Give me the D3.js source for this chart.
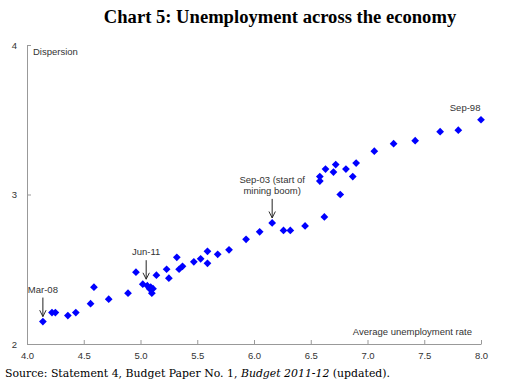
<!DOCTYPE html>
<html>
<head>
<meta charset="utf-8">
<script src="https://cdn.jsdelivr.net/npm/d3@7"></script>
<style>
body { margin: 0; background: #fff; }
svg { display: block; }
.tick text { font-family: Arial, "Liberation Sans", sans-serif; font-size: 9.5px; fill: #333; }
.note { font-family: Arial, "Liberation Sans", sans-serif; font-size: 9.5px; fill: #333; }
</style>
</head>
<body>
<script>
// average unemployment rate (x) and dispersion (y), one point per quarter
const unemployment = [4.14, 4.22, 4.25, 4.36, 4.43, 4.56, 4.59, 4.72, 4.89, 4.96,
  5.02, 5.06, 5.09, 5.11, 5.10, 5.08, 5.14, 5.23, 5.25, 5.32,
  5.34, 5.37, 5.47, 5.53, 5.59, 5.59, 5.68, 5.78, 5.93, 6.05,
  6.16, 6.26, 6.32, 6.45, 6.62, 6.58, 6.58, 6.63, 6.70, 6.72,
  6.76, 6.81, 6.87, 6.90, 7.06, 7.23, 7.42, 7.64, 7.80, 8.00];
const dispersion = [2.15, 2.21, 2.21, 2.19, 2.21, 2.27, 2.38, 2.30, 2.34, 2.48,
  2.40, 2.39, 2.38, 2.37, 2.34, 2.37, 2.46, 2.50, 2.44, 2.58,
  2.50, 2.52, 2.55, 2.57, 2.62, 2.54, 2.60, 2.63, 2.70, 2.75,
  2.81, 2.76, 2.76, 2.79, 2.85, 3.12, 3.09, 3.17, 3.15, 3.20,
  3.00, 3.17, 3.12, 3.21, 3.29, 3.34, 3.36, 3.42, 3.43, 3.50];
const xTicks = [4.0, 4.5, 5.0, 5.5, 6.0, 6.5, 7.0, 7.5, 8.0];
const yTicks = [2, 3, 4];
// labelled observations: [label lines, x, y, arrow?]
const notes = [
  [["Mar-08"], 4.14, 2.15, true],
  [["Jun-11"], 5.05, 2.40, true],
  [["Sep-03 (start of", "mining boom)"], 6.16, 2.81, true],
  [["Sep-98"], 7.86, 3.50, false]
];

const width = 505, height = 383;
const svg = d3.select("body").append("svg")
  .attr("width", width).attr("height", height);

const x = d3.scaleLinear().domain([4, 8]).range([27, 481]);
const y = d3.scaleLinear().domain([2, 4]).range([344, 45]);

svg.append("defs").append("marker")
  .attr("id", "arrow").attr("viewBox", "0 0 10 10")
  .attr("refX", 9).attr("refY", 5)
  .attr("markerWidth", 8).attr("markerHeight", 8)
  .attr("orient", "auto")
  .append("path").attr("d", "M1,1 L9,5 L1,9")
  .attr("fill", "none").attr("stroke", "#222").attr("stroke-width", 1.2);

svg.append("text")
  .attr("x", 280).attr("y", 23)
  .attr("text-anchor", "middle")
  .style("font-family", "'Liberation Serif', 'Times New Roman', serif")
  .style("font-weight", "bold").style("font-size", "18.6px")
  .text("Chart 5: Unemployment across the economy");

svg.append("g").attr("transform", "translate(0,344)")
  .call(d3.axisBottom(x).tickValues(xTicks).tickFormat(d3.format(".1f"))
    .tickSizeInner(-4).tickSizeOuter(0).tickPadding(8));
svg.append("g").attr("transform", "translate(27,0)")
  .call(d3.axisLeft(y).tickValues(yTicks).tickFormat(d3.format("d"))
    .tickSizeInner(-4).tickSizeOuter(0).tickPadding(10));
svg.selectAll(".domain, .tick line").attr("stroke", "#999");

svg.append("text").attr("class", "note")
  .attr("x", 33).attr("y", 55).text("Dispersion");
svg.append("text").attr("class", "note")
  .attr("x", 472).attr("y", 335).attr("text-anchor", "end")
  .text("Average unemployment rate");

const pts = unemployment.map((u, i) => [u, dispersion[i]]);
svg.append("g").selectAll("path").data(pts).enter().append("path")
  .attr("d", d3.symbol(d3.symbolSquare, 30))
  .attr("transform", d => "translate(" + x(d[0]) + "," + y(d[1]) + ") rotate(45)")
  .attr("fill", "#0000ff");

notes.forEach(n => {
  const px = x(n[1]), py = y(n[2]);
  const top = n[3] ? py - 27 : py - 7;
  const t = svg.append("text").attr("class", "note").attr("text-anchor", "middle");
  n[0].forEach((line, i) => {
    t.append("tspan").attr("x", px)
      .attr("y", top - (n[0].length - 1 - i) * 11 - 2).text(line);
  });
  if (n[3]) {
    svg.append("line")
      .attr("x1", px).attr("x2", px)
      .attr("y1", top + 3).attr("y2", py - 5)
      .attr("stroke", "#222").attr("stroke-width", 1)
      .attr("marker-end", "url(#arrow)");
  }
});

const src = svg.append("text").attr("x", 5).attr("y", 377)
  .style("font-family", "'DejaVu Serif', serif").style("font-size", "10.9px");
src.append("tspan").text("Source: Statement 4, Budget Paper No. 1, ");
src.append("tspan").style("font-style", "italic").text("Budget 2011-12");
src.append("tspan").text(" (updated).");
</script>
</body>
</html>
